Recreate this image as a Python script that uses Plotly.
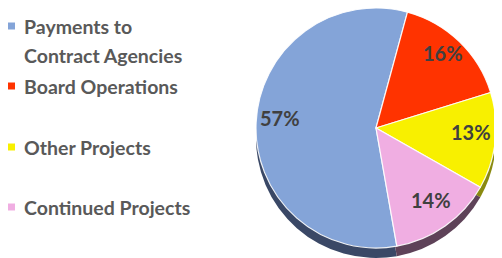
import math
import plotly.graph_objects as go

categories = ["Payments to<br>Contract Agencies", "Board Operations", "Other Projects", "Continued Projects"]
values = [57, 16, 13, 14]
colors = ["#84a4d8", "#ff3300", "#f8f000", "#f0aee2"]
side_colors = ["#3a4866", "#8a2a10", "#8a8a10", "#5e4258"]
legend_y_px = [26, 86, 147, 207]

W, H = 502, 258
OFF = 8  # page body margin in the viewer; positions below are in window pixels
ROT = 170

def px(x):
    return (x - OFF) / W

def py(y):
    return 1 - (y - OFF) / H

cx, cy, r, depth = 376, 128, 120, 10

fig = go.Figure()
# side (3D depth) pie
fig.add_trace(go.Pie(
    values=values, labels=categories, sort=False, direction="clockwise", rotation=ROT,
    marker=dict(colors=side_colors, line=dict(color="rgba(0,0,0,0)", width=0)),
    textinfo="none", hoverinfo="skip", showlegend=False,
    domain=dict(x=[px(cx - r), px(cx + r)], y=[py(cy + r + depth), py(cy - r + depth)]),
))
# top pie
fig.add_trace(go.Pie(
    values=values, labels=categories, sort=False, direction="clockwise", rotation=ROT,
    marker=dict(colors=colors, line=dict(color="rgba(255,255,255,0.9)", width=1.2)),
    textinfo="none", showlegend=False,
    domain=dict(x=[px(cx - r), px(cx + r)], y=[py(cy + r), py(cy - r)]),
))

annotations = []
shapes = []

# slice labels placed along each slice's mid-angle
total = sum(values)
start = ROT
lcx, lcy, lr = 376, 122, 96
for v in values:
    mid = math.radians(start + 360 * v / total / 2)
    start += 360 * v / total
    annotations.append(dict(
        x=px(lcx + lr * math.sin(mid)), y=py(lcy - lr * math.cos(mid)),
        xref="paper", yref="paper", xanchor="center", yanchor="middle",
        text=f"{round(100 * v / total)}%", showarrow=False,
        font=dict(family="Lato, sans-serif", size=20, color="#404040", weight="bold"),
    ))

# custom legend (uneven spacing as in the original)
for cat, col, ypx in zip(categories, colors, legend_y_px):
    for i, line in enumerate(cat.split("<br>")):
        annotations.append(dict(
            x=px(22), y=py(ypx + 29 * i), xref="paper", yref="paper",
            xanchor="left", yanchor="middle", text=line, showarrow=False, align="left",
            font=dict(family="Lato, sans-serif", size=19.5, color="#595959", weight="bold"),
        ))
    shapes.append(dict(
        type="rect", xref="paper", yref="paper",
        x0=px(8), x1=px(15), y0=py(ypx + 3.5), y1=py(ypx - 3.5),
        fillcolor=col, line=dict(width=0),
    ))

fig.update_layout(
    width=W, height=H, margin=dict(l=0, r=0, t=0, b=0),
    paper_bgcolor="white", plot_bgcolor="white",
    annotations=annotations, shapes=shapes,
)
fig.write_html("out.html")
